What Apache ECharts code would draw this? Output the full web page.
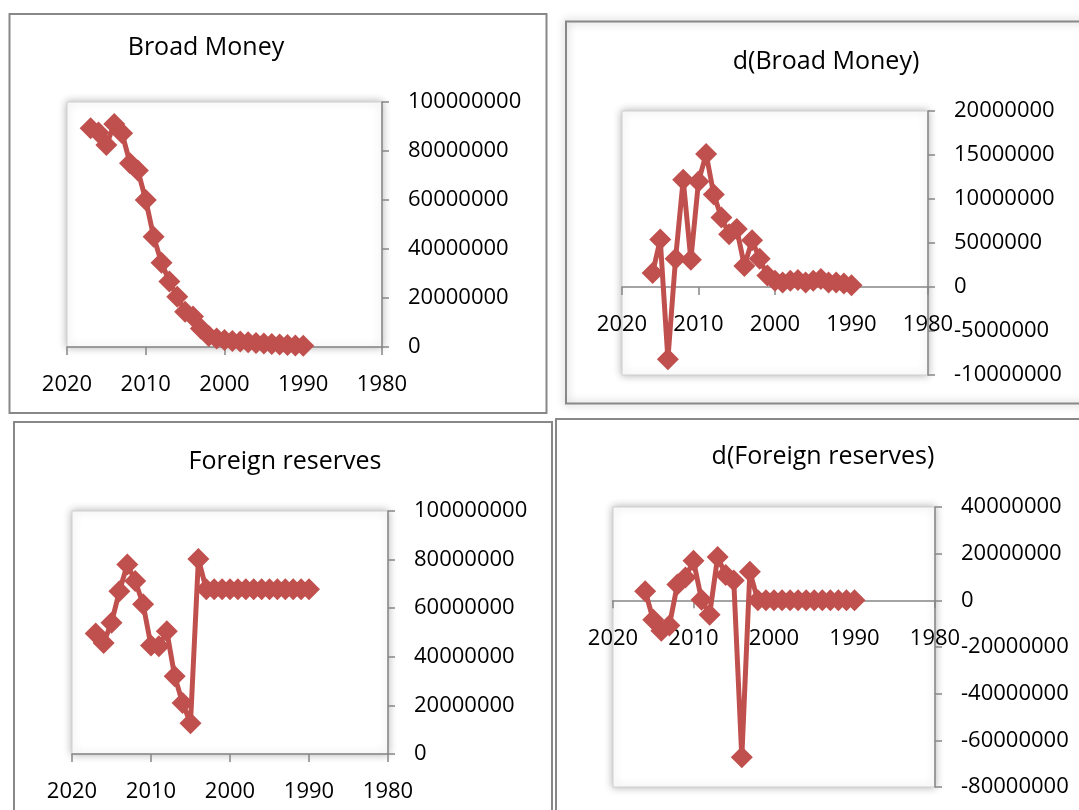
<!DOCTYPE html>
<html>
<head>
<meta charset="utf-8">
<script src="https://cdn.jsdelivr.net/npm/echarts@6/dist/echarts.min.js"></script>
<style>
  html, body { margin: 0; padding: 0; background: #ffffff; }
  #chart { width: 1079px; height: 810px; }
</style>
</head>
<body>
<div id="chart"></div>
<script>
// ---- Data ----
const titles = ['Broad Money', 'd(Broad Money)', 'Foreign reserves', 'd(Foreign reserves)'];
const xTickYears = [2020, 2010, 2000, 1990, 1980];

const yearsLevel = [2017, 2016, 2015, 2014, 2013, 2012, 2011, 2010, 2009, 2008, 2007, 2006, 2005, 2004,
                    2003, 2002, 2001, 2000, 1999, 1998, 1997, 1996, 1995, 1994, 1993, 1992, 1991, 1990];
const yearsDiff = [2016, 2015, 2014, 2013, 2012, 2011, 2010, 2009, 2008, 2007, 2006, 2005, 2004,
                   2003, 2002, 2001, 2000, 1999, 1998, 1997, 1996, 1995, 1994, 1993, 1992, 1991, 1990];

const broadMoney = [89300000, 87600000, 82400000, 91000000, 87200000, 75000000, 72000000, 60000000,
                    45000000, 34400000, 26700000, 20500000, 14400000, 12400000, 7600000, 4500000,
                    3500000, 2900000, 2500000, 2200000, 1900000, 1600000, 1400000, 1200000, 1000000,
                    800000, 600000, 500000];
const dBroadMoney = [1600000, 5400000, -8200000, 3200000, 12200000, 3100000, 12000000, 15100000,
                     10500000, 7900000, 6000000, 6600000, 2400000, 5300000, 3200000, 1300000, 700000,
                     500000, 700000, 800000, 500000, 700000, 900000, 500000, 500000, 400000, 200000];
const foreignReserves = [49600000, 45700000, 54000000, 67000000, 78000000, 71200000, 61600000, 44600000,
                         44300000, 50500000, 32000000, 21000000, 12700000, 80200000, 67800000, 67800000,
                         67800000, 67800000, 67800000, 67800000, 67800000, 67800000, 67800000, 67800000,
                         67800000, 67800000, 67800000, 67800000];
const dForeignReserves = [3900000, -8300000, -13000000, -10800000, 6800000, 9800000, 17000000, 300000,
                          -6200000, 18600000, 10900000, 8500000, -67300000, 12200000, 0, 0, 0, 0, 0, 0,
                          0, 0, 0, 0, 0, 0, 0];

const yRanges = [
  { min: 0, max: 100000000, interval: 20000000 },
  { min: -10000000, max: 20000000, interval: 5000000 },
  { min: 0, max: 100000000, interval: 20000000 },
  { min: -80000000, max: 40000000, interval: 20000000 }
];

// ---- Layout / style ----
const grids = [
  { left: 67, top: 102, width: 315, height: 245 },
  { left: 622, top: 111, width: 306, height: 264 },
  { left: 72, top: 511, width: 316, height: 243 },
  { left: 613, top: 507, width: 322, height: 280 }
];
const titlePos = [[206, 48], [826, 62], [285, 462], [823, 457]];
const panels = [
  { x: 9.5, y: 14, w: 537, h: 399, shadow: false },
  { x: 566, y: 21.5, w: 530, h: 382, shadow: true },
  { x: 14, y: 422, w: 538, h: 400, shadow: false },
  { x: 556, y: 419, w: 540, h: 400, shadow: false }
];
const RED = '#C0504D';
const AXIS = '#868686';
const FONT = "'Open Sans', 'DejaVu Sans', sans-serif";

const seriesData = [
  yearsLevel.map((y, i) => [y, broadMoney[i]]),
  yearsDiff.map((y, i) => [y, dBroadMoney[i]]),
  yearsLevel.map((y, i) => [y, foreignReserves[i]]),
  yearsDiff.map((y, i) => [y, dForeignReserves[i]])
];

const chart = echarts.init(document.getElementById('chart'), null, { renderer: 'canvas' });

const graphic = [];
panels.forEach(p => {
  graphic.push({
    type: 'rect', z: -10, silent: true,
    shape: { x: p.x, y: p.y, width: p.w, height: p.h },
    style: Object.assign({ fill: 'rgba(0,0,0,0)', stroke: '#888888', lineWidth: 2 },
      p.shadow ? { shadowBlur: 8, shadowColor: 'rgba(0,0,0,0.35)' } : {})
  });
});
titles.forEach((t, i) => {
  graphic.push({
    type: 'text', silent: true,
    x: titlePos[i][0], y: titlePos[i][1],
    style: { text: t, fill: '#000', font: "25px " + FONT, align: 'center', verticalAlign: 'middle' }
  });
});

// x axis sits where y = 0 (moved up from the grid bottom by the axis' own scale)
function zeroOffset(i) {
  const r = yRanges[i];
  return -grids[i].height * (0 - r.min) / (r.max - r.min);
}

const option = {
  animation: false,
  backgroundColor: '#ffffff',
  graphic: graphic,
  grid: grids.map(g => Object.assign({
    show: true, backgroundColor: '#ffffff', borderColor: '#cfcfcf', borderWidth: 1,
    shadowBlur: 8, shadowColor: 'rgba(0,0,0,0.3)', containLabel: false
  }, g)),
  xAxis: grids.map((g, i) => ({
    type: 'value', gridIndex: i, inverse: true, position: 'bottom',
    offset: zeroOffset(i),
    min: xTickYears[xTickYears.length - 1], max: xTickYears[0], interval: 10,
    axisLine: { show: true, onZero: false, lineStyle: { color: AXIS, width: 1.5 } },
    axisTick: { show: true, length: 8, inside: false, lineStyle: { color: AXIS, width: 1.5 } },
    axisLabel: { color: '#000', fontSize: 22, fontFamily: FONT, margin: 27,
                 formatter: v => String(v) },
    splitLine: { show: false }
  })),
  yAxis: grids.map((g, i) => ({
    type: 'value', gridIndex: i, position: 'right',
    min: yRanges[i].min, max: yRanges[i].max, interval: yRanges[i].interval,
    axisLine: { show: true, onZero: false, lineStyle: { color: AXIS, width: 1.5 } },
    axisTick: { show: true, length: 7, inside: false, lineStyle: { color: AXIS, width: 1.5 } },
    axisLabel: { color: '#000', fontSize: 22, fontFamily: FONT, margin: 26, align: 'left',
                 padding: [6, 0, 0, 0], formatter: v => String(v) },
    splitLine: { show: false }
  })),
  series: seriesData.map((d, i) => ({
    type: 'line', xAxisIndex: i, yAxisIndex: i, data: d,
    symbol: 'diamond', symbolSize: 22, showSymbol: true,
    lineStyle: { color: RED, width: 5 },
    itemStyle: { color: RED },
    z: 5
  }))
};
chart.setOption(option);
</script>
</body>
</html>
